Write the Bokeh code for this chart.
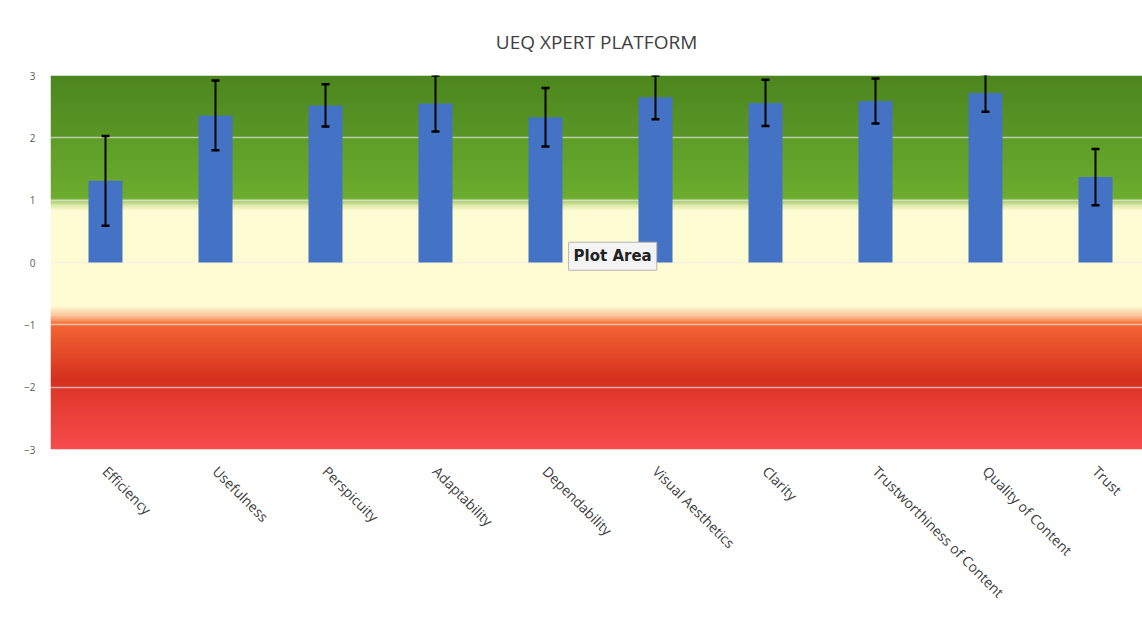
import numpy as np
from bokeh.plotting import figure
from bokeh.models import ColumnDataSource, Whisker, Range1d, FixedTicker, Label, TeeHead
from bokeh.embed import file_html
from bokeh.resources import INLINE

# ---------------- data ----------------
categories = ["Efficiency", "Usefulness", "Perspicuity", "Adaptability", "Dependability",
              "Visual Aesthetics", "Clarity", "Trustworthiness of Content",
              "Quality of Content", "Trust"]
means = [1.31, 2.36, 2.52, 2.55, 2.33, 2.65, 2.56, 2.59, 2.72, 1.37]
errors = [0.72, 0.56, 0.34, 0.45, 0.47, 0.35, 0.37, 0.36, 0.30, 0.45]
y_ticks = [-3, -2, -1, 0, 1, 2, 3]
title_text = "UEQ XPERT PLATFORM"
tooltip_text = "Plot Area"

# background colour scale (value, colour) from -3 to 3
band_stops = [
    (-3.00, "#f64c4c"), (-2.03, "#e0372b"), (-1.97, "#d8311f"),
    (-1.90, "#d52f1e"), (-1.02, "#f26532"), (-0.97, "#f6763f"),
    (-0.86, "#fcc29a"), (-0.70, "#fefcd2"), (0.83, "#fefcd2"),
    (0.92, "#dce9a8"), (1.00, "#9cc463"), (1.04, "#6cac2e"),
    (1.98, "#5e9d28"), (2.02, "#5a9626"), (3.00, "#4c861e"),
]

# ---------------- layout constants ----------------
cat_px = 110.0
frame_w = 1092
frame_h = 374
x_end = frame_w / cat_px

xs = [i + 0.5 for i in range(len(categories))]
src = ColumnDataSource(dict(
    x=xs, mean=means,
    upper=[m + e for m, e in zip(means, errors)],
    lower=[m - e for m, e in zip(means, errors)],
))

p = figure(frame_width=frame_w, frame_height=frame_h,
           x_range=Range1d(0, x_end), y_range=Range1d(-3, 3),
           output_backend="svg", toolbar_location=None,
           min_border_left=50, min_border_right=0, min_border_top=75,
           min_border_bottom=0, background_fill_color="white",
           border_fill_color="white")
p.outline_line_color = None

# gradient background image
n_rows = 601
ys = np.linspace(-3, 3, n_rows)
sv = [s[0] for s in band_stops]
def ch(c, k):
    return int(c[1 + 2 * k:3 + 2 * k], 16)
img = np.empty((n_rows, 2), dtype=np.uint32)
view = img.view(dtype=np.uint8).reshape((n_rows, 2, 4))
for k in range(3):
    col = np.interp(ys, sv, [ch(s[1], k) for s in band_stops])
    view[:, :, k] = np.round(col)[:, None].astype(np.uint8)
view[:, :, 3] = 255
p.image_rgba(image=[img], x=0, y=-3, dw=x_end, dh=6, level="image")

# bars
p.vbar(x="x", top="mean", bottom=0, width=34 / cat_px, source=src,
       fill_color="#4472c4", line_color=None)

# error bars
head_u = TeeHead(size=8, line_width=2.5, line_color="black")
head_l = TeeHead(size=8, line_width=2.5, line_color="black")
wh = Whisker(base="x", upper="upper", lower="lower", source=src,
             line_color="black", line_width=2,
             upper_head=head_u, lower_head=head_l, level="annotation")
p.add_layout(wh)

# axes
p.yaxis.ticker = FixedTicker(ticks=y_ticks)
p.yaxis.axis_line_color = None
p.yaxis.major_tick_line_color = None
p.yaxis.minor_tick_line_color = None
p.yaxis.major_label_standoff = 9
p.yaxis.major_label_text_font = "Open Sans"
p.yaxis.major_label_text_font_size = "10px"
p.yaxis.major_label_text_color = "#595959"

p.xaxis.ticker = FixedTicker(ticks=xs)
p.xaxis.major_label_overrides = {x: c for x, c in zip(xs, categories)}
p.xaxis.major_label_orientation = -np.pi / 4
p.xaxis.axis_line_color = None
p.xaxis.major_tick_line_color = None
p.xaxis.minor_tick_line_color = None
p.xaxis.major_label_standoff = 13
p.xaxis.major_label_text_font = "Open Sans"
p.xaxis.major_label_text_font_size = "14px"
p.xaxis.major_label_text_color = "#404040"

# grid
p.xgrid.grid_line_color = None
p.ygrid.grid_line_color = "#ececec"
p.ygrid.grid_line_alpha = 0.65
p.ygrid.grid_line_width = 1.5

# title
p.title.text = title_text
p.title.align = "center"
p.title.text_font = "Open Sans"
p.title.text_font_size = "19px"
p.title.text_font_style = "normal"
p.title.text_color = "#404040"
p.title.standoff = 41

# "Plot Area" tooltip overlay
tip = Label(x=4.71, y=0.1, text=tooltip_text, text_baseline="middle",
            text_align="left", text_font="DejaVu Sans", text_font_size="15px",
            text_font_style="bold",
            text_color="#222222", background_fill_color="#f3f3f3",
            border_line_color="#b5b5b5", padding=5)
p.add_layout(tip)

open("out.html", "w").write(file_html(p, INLINE))
